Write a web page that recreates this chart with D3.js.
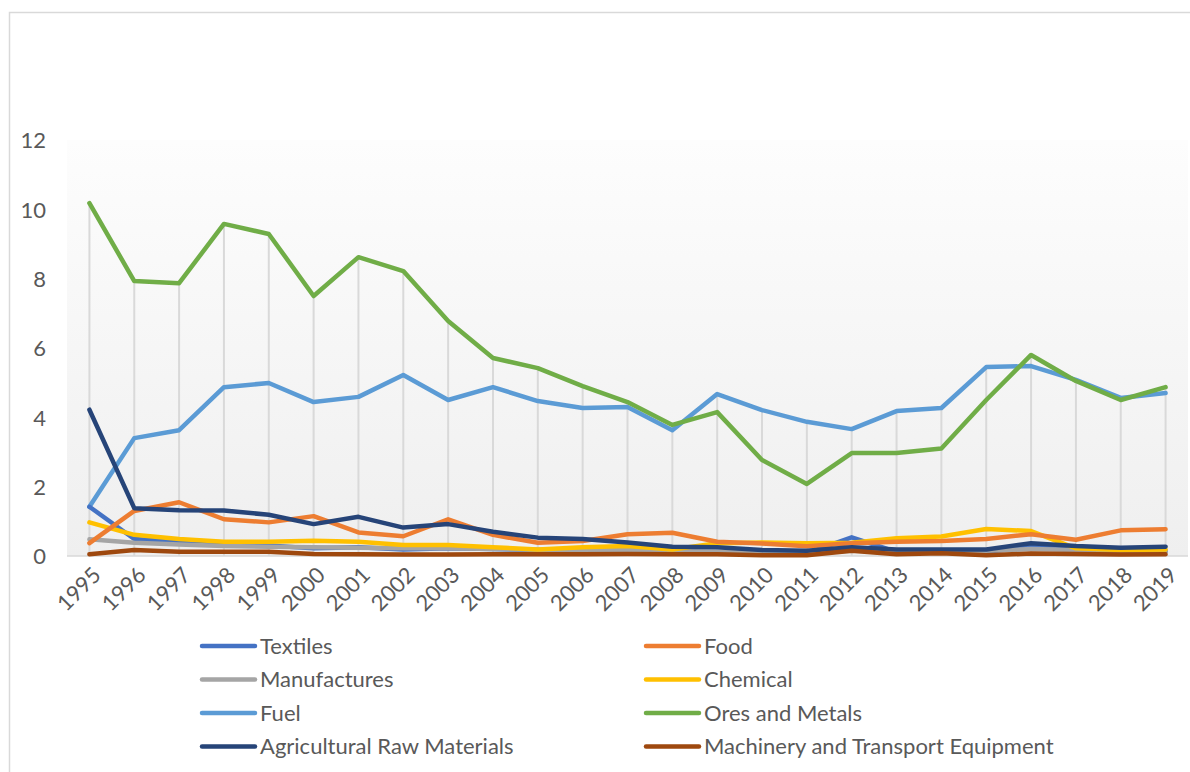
<!DOCTYPE html>
<html>
<head>
<meta charset="utf-8">
<script src="https://cdn.jsdelivr.net/npm/d3@7"></script>
<style>
  body { margin: 0; background: #fff; }
  text { font-family: "Lato", "Open Sans", sans-serif; fill: #595959; }
</style>
</head>
<body>
<div id="chart"></div>
<script>
// years on the x axis
const years = ["1995","1996","1997","1998","1999","2000","2001","2002","2003","2004","2005","2006",
  "2007","2008","2009","2010","2011","2012","2013","2014","2015","2016","2017","2018","2019"];
const yTicks = [0, 2, 4, 6, 8, 10, 12];

const seriesNames = ["Textiles", "Food", "Manufactures", "Chemical", "Fuel", "Ores and Metals",
  "Agricultural Raw Materials", "Machinery and Transport Equipment"];

const textiles = [1.42,0.49,0.41,0.35,0.30,0.22,0.25,0.19,0.22,0.20,0.17,0.15,0.14,0.12,0.10,0.08,0.08,0.54,0.12,0.15,0.12,0.27,0.20,0.12,0.14];
const food = [0.37,1.30,1.55,1.06,0.97,1.15,0.68,0.57,1.06,0.61,0.38,0.43,0.63,0.67,0.41,0.36,0.28,0.37,0.41,0.43,0.49,0.63,0.47,0.74,0.77];
const manufactures = [0.48,0.38,0.33,0.29,0.27,0.25,0.24,0.22,0.22,0.20,0.18,0.17,0.17,0.15,0.12,0.10,0.10,0.15,0.15,0.15,0.15,0.20,0.17,0.15,0.15];
const chemical = [0.97,0.61,0.49,0.41,0.41,0.44,0.41,0.32,0.32,0.25,0.19,0.25,0.29,0.19,0.37,0.39,0.37,0.38,0.51,0.56,0.78,0.72,0.22,0.17,0.19];
const fuel = [1.42,3.40,3.63,4.87,4.99,4.44,4.59,5.22,4.50,4.87,4.47,4.27,4.30,3.63,4.67,4.21,3.87,3.66,4.18,4.27,5.45,5.48,5.08,4.56,4.70];
const ores = [10.18,7.93,7.87,9.58,9.29,7.50,8.62,8.22,6.78,5.71,5.42,4.90,4.44,3.78,4.15,2.77,2.08,2.97,2.97,3.10,4.50,5.80,5.05,4.50,4.87];
const agricultural = [4.22,1.38,1.32,1.31,1.19,0.92,1.13,0.82,0.92,0.70,0.53,0.49,0.39,0.27,0.25,0.17,0.15,0.25,0.19,0.19,0.19,0.37,0.29,0.24,0.27];
const machinery = [0.05,0.17,0.12,0.12,0.12,0.06,0.05,0.04,0.04,0.05,0.05,0.05,0.06,0.05,0.05,0.02,0.02,0.15,0.05,0.08,0.02,0.07,0.06,0.04,0.05];

const seriesValues = [textiles, food, manufactures, chemical, fuel, ores, agricultural, machinery];
const colors = ["#4472C4", "#ED7D31", "#A5A5A5", "#FFC000", "#5B9BD5", "#70AD47", "#264478", "#9E480E"];

// draw order (last on top), roughly like the original
const drawOrder = [4, 5, 0, 2, 3, 1, 6, 7];

const W = 1190, H = 772;
const plot = {left: 67, right: 1188, top: 140, bottom: 556};

const svg = d3.select("#chart").append("svg")
    .attr("width", W)
    .attr("height", H);

// outer chart border
svg.append("rect")
    .attr("x", 9.5).attr("y", 12.5)
    .attr("width", W + 20).attr("height", H + 20)
    .attr("fill", "#fff")
    .attr("stroke", "#d9d9d9")
    .attr("stroke-width", 1.5);

// plot area gradient
const grad = svg.append("defs").append("linearGradient")
    .attr("id", "bg").attr("x1", 0).attr("y1", 0).attr("x2", 0).attr("y2", 1);
grad.append("stop").attr("offset", "0%").attr("stop-color", "#fdfdfd");
grad.append("stop").attr("offset", "100%").attr("stop-color", "#efefef");

svg.append("rect")
    .attr("x", plot.left).attr("y", plot.top)
    .attr("width", plot.right - plot.left).attr("height", plot.bottom - plot.top)
    .attr("fill", "url(#bg)");

// scales
let x = d3.scalePoint()
    .domain(years)
    .range([plot.left, plot.right])
    .padding(0.5);
let y = d3.scaleLinear()
    .domain([0, 12])
    .range([plot.bottom, plot.top]);

// drop lines: from the highest point of each year down to the axis
const maxByYear = years.map(function(yr, i) {
    return d3.max(seriesValues, function(s) { return s[i]; });
});
svg.append("g")
  .selectAll("line")
  .data(years)
  .enter()
  .append("line")
    .attr("x1", function(d) { return x(d); })
    .attr("x2", function(d) { return x(d); })
    .attr("y1", function(d, i) { return y(maxByYear[i]); })
    .attr("y2", y(0))
    .attr("stroke", "#d9d9d9")
    .attr("stroke-width", 2);

// baseline
svg.append("line")
    .attr("x1", plot.left).attr("x2", plot.right)
    .attr("y1", y(0)).attr("y2", y(0))
    .attr("stroke", "#d9d9d9")
    .attr("stroke-width", 1.5);

// y axis labels
let yAxis = svg.append("g")
    .attr("transform", "translate(" + 46 + ",0)")
    .call(d3.axisLeft(y).tickValues(yTicks).tickSize(0).tickPadding(0));
yAxis.select(".domain").remove();
yAxis.selectAll("text")
    .style("font-size", "22px")
    .attr("fill", "#595959")
    .attr("dy", "0.35em");

// x axis labels, rotated
let xAxis = svg.append("g")
    .attr("transform", "translate(0," + y(0) + ")")
    .call(d3.axisBottom(x).tickSize(0).tickPadding(0));
xAxis.select(".domain").remove();
xAxis.selectAll("text")
    .style("font-size", "22px")
    .attr("fill", "#595959")
    .attr("text-anchor", "end")
    .attr("dy", "0.35em")
    .attr("transform", "translate(7,15) rotate(-45)");

// the lines
let line = d3.line()
    .x(function(d, i) { return x(years[i]); })
    .y(function(d) { return y(d); });

svg.append("g")
  .selectAll("path")
  .data(drawOrder)
  .enter()
  .append("path")
    .attr("d", function(k) { return line(seriesValues[k]); })
    .attr("fill", "none")
    .attr("stroke", function(k) { return colors[k]; })
    .attr("stroke-width", 4.5)
    .attr("stroke-linejoin", "round")
    .attr("stroke-linecap", "round");

// legend, two columns
let legend = svg.append("g")
  .selectAll("g")
  .data(seriesNames)
  .enter()
  .append("g")
    .attr("transform", function(d, i) {
        return "translate(" + (i % 2 === 0 ? 202 : 646) + "," + (646 + Math.floor(i / 2) * 33.5) + ")";
    });

legend.append("line")
    .attr("x1", 0).attr("x2", 53)
    .attr("y1", 0).attr("y2", 0)
    .attr("stroke", function(d, i) { return colors[i]; })
    .attr("stroke-width", 4.5)
    .attr("stroke-linecap", "round");

legend.append("text")
    .attr("x", 58)
    .attr("dy", "0.35em")
    .style("font-size", "22px")
    .text(function(d) { return d; });
</script>
</body>
</html>
